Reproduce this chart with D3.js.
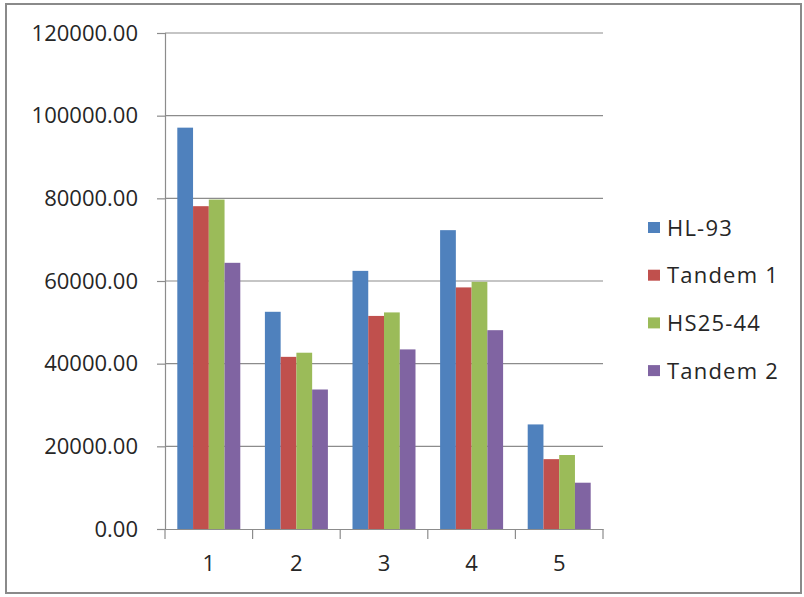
<!DOCTYPE html>
<html>
<head>
<meta charset="utf-8">
<script src="https://cdn.jsdelivr.net/npm/d3@7"></script>
<style>
  html, body { margin: 0; padding: 0; background: #fff; }
  svg { display: block; }
  text { font-family: "Open Sans", "Noto Sans", sans-serif; fill: #262626; }
</style>
</head>
<body>
<script>
// Load case results per configuration
const categories = ["1", "2", "3", "4", "5"];
const seriesNames = ["HL-93", "Tandem 1", "HS25-44", "Tandem 2"];
const hl93     = [97100, 52550, 62450, 72300, 25300];
const tandem1  = [78100, 41650, 51550, 58450, 16900];
const hs2544   = [79700, 42650, 52400, 59800, 17900];
const tandem2  = [64400, 33750, 43450, 48100, 11200];
const yTicks   = [0, 20000, 40000, 60000, 80000, 100000, 120000];
const colors   = ["#4F81BD", "#C0504D", "#9BBB59", "#8064A2"];

const seriesValues = [hl93, tandem1, hs2544, tandem2];

const W = 804, H = 597;
const plot = { left: 165, right: 603, top: 33, bottom: 529 };

const svg = d3.select("body").append("svg")
  .attr("width", W).attr("height", H);

svg.append("rect").attr("width", W).attr("height", H).attr("fill", "#fff");

// Outer chart frame
svg.append("rect")
  .attr("x", 6).attr("y", 4)
  .attr("width", 795).attr("height", 589)
  .attr("fill", "none").attr("stroke", "#8a8a8a").attr("stroke-width", 2);

const y = d3.scaleLinear().domain([0, 120000]).range([plot.bottom, plot.top]);
const x0 = d3.scaleBand().domain(categories).range([plot.left, plot.right]).padding(0);
const groupGap = 24.6;
const x1 = d3.scaleBand().domain(d3.range(seriesNames.length))
  .range([groupGap / 2, x0.bandwidth() - groupGap / 2]).padding(0);

// Horizontal gridlines
svg.append("g").selectAll("line")
  .data(yTicks.filter(d => d > 0))
  .join("line")
  .attr("x1", plot.left).attr("x2", plot.right)
  .attr("y1", d => y(d)).attr("y2", d => y(d))
  .attr("stroke", "#8c8c8c").attr("stroke-width", 1.2);

// Y axis
const yAxis = svg.append("g")
  .attr("transform", `translate(${plot.left},0)`)
  .call(d3.axisLeft(y).tickValues(yTicks).tickFormat(d => d3.format(".2f")(d)).tickSize(8).tickPadding(19));
yAxis.select(".domain").attr("stroke", "#8c8c8c").attr("stroke-width", 1.2);
yAxis.selectAll(".tick line").attr("stroke", "#8c8c8c").attr("stroke-width", 1.2);
yAxis.selectAll(".tick text")
  .attr("font-size", 22).attr("font-family", "'Open Sans', sans-serif").attr("fill", "#1f1f1f");

// Bars
const groups = svg.append("g").selectAll("g")
  .data(categories)
  .join("g")
  .attr("transform", d => `translate(${x0(d)},0)`);

groups.selectAll("rect")
  .data((c, i) => seriesValues.map((vals, s) => ({ s, v: vals[i] })))
  .join("rect")
  .attr("x", d => x1(d.s))
  .attr("width", x1.bandwidth())
  .attr("y", d => y(d.v))
  .attr("height", d => y(0) - y(d.v))
  .attr("fill", d => colors[d.s]);

// X axis
const xAxis = svg.append("g")
  .attr("transform", `translate(0,${plot.bottom})`)
  .call(d3.axisBottom(x0).tickSize(0).tickPadding(26));
xAxis.select(".domain").attr("stroke", "#8c8c8c").attr("stroke-width", 1.2);
xAxis.selectAll(".tick text")
  .attr("font-size", 22).attr("font-family", "'Open Sans', sans-serif").attr("fill", "#1f1f1f");

// Category boundary tick marks
const bounds = categories.map(c => x0(c)).concat([plot.right]);
svg.append("g").selectAll("line")
  .data(bounds)
  .join("line")
  .attr("x1", d => d).attr("x2", d => d)
  .attr("y1", plot.bottom).attr("y2", plot.bottom + 10)
  .attr("stroke", "#8c8c8c").attr("stroke-width", 1.2);

// Legend
const legend = svg.append("g").attr("transform", "translate(648,228)");
const item = legend.selectAll("g")
  .data(seriesNames)
  .join("g")
  .attr("transform", (d, i) => `translate(0,${i * 47.7})`);
item.append("rect")
  .attr("x", 0).attr("y", -6)
  .attr("width", 12).attr("height", 11)
  .attr("fill", (d, i) => colors[i]);
item.append("text")
  .attr("x", 19).attr("y", 0)
  .attr("dy", "0.35em")
  .attr("font-size", 22)
  .attr("letter-spacing", "1.2px")
  .attr("fill", "#1f1f1f")
  .text(d => d);
</script>
</body>
</html>
